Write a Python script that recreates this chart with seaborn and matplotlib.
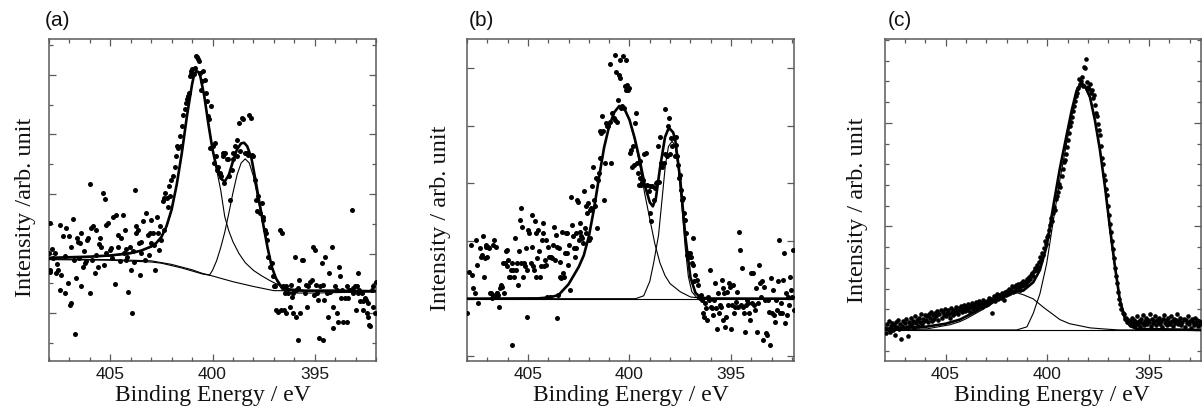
import numpy as np
import matplotlib
matplotlib.use("Agg")
import matplotlib.pyplot as plt
from matplotlib.ticker import MultipleLocator, NullLocator
import seaborn as sns

sns.set_style("ticks")
plt.rcParams['font.family'] = ['Liberation Sans', 'DejaVu Sans']

# ---------------- panel (a) ----------------
a_left_pts = [
    (407.99, 2.01), (407.97, 1.72), (407.97, 2.51), (407.93, 1.70), (407.80, 1.92), (407.72, 2.01),
    (407.64, 1.67), (407.56, 1.72), (407.48, 2.48), (407.48, 1.39), (407.40, 1.64), (407.31, 2.29),
    (407.23, 1.34), (407.15, 2.43), (407.07, 1.50), (407.02, 2.29), (406.96, 1.14), (406.91, 1.17),
    (406.82, 2.58), (406.79, 1.90), (406.74, 0.66), (406.69, 1.59), (406.63, 2.26), (406.58, 2.20),
    (406.50, 2.18), (406.45, 2.34), (406.42, 1.45), (406.33, 1.78), (406.25, 1.84), (406.17, 1.87),
    (406.14, 2.23), (406.09, 2.26), (406.01, 3.16), (405.98, 1.34), (405.93, 2.43), (405.84, 2.46),
    (405.76, 1.67), (405.71, 2.40), (405.68, 1.98), (405.60, 1.78), (405.52, 2.26), (405.44, 2.12),
    (405.36, 3.02), (405.27, 2.92), (405.22, 2.01), (405.19, 2.48), (405.11, 2.51), (405.03, 2.06),
    (404.95, 2.09), (404.87, 2.62), (404.78, 1.49), (404.70, 2.65), (404.62, 2.12), (404.54, 1.87),
    (404.46, 2.26), (404.38, 2.65), (404.34, 2.01), (404.29, 2.40), (404.21, 1.90), (404.16, 1.95),
    (404.13, 1.36), (404.05, 2.12), (403.97, 1.73), (403.92, 1.00), (403.89, 2.04), (403.80, 3.07),
    (403.75, 2.34), (403.72, 2.46), (403.64, 2.40), (403.59, 2.18), (403.56, 1.64), (403.48, 2.20),
    (403.40, 2.54), (403.31, 1.90), (403.23, 2.68), (403.15, 2.32), (403.07, 2.34), (403.02, 2.57),
    (402.99, 2.18), (402.91, 2.34), (402.82, 1.73), (402.74, 2.62), (402.66, 2.34), (402.58, 2.46),
    (402.50, 2.23), (402.42, 2.88), (402.38, 2.93), (402.30, 3.02), (402.25, 2.93),
    (407.85, 2.08), (407.60, 1.83), (407.20, 1.96), (406.90, 2.12), (406.55, 1.93), (406.30, 2.05),
    (405.90, 1.89), (405.55, 2.17), (405.30, 1.81), (404.90, 1.93), (404.60, 2.31), (404.25, 2.08),
    (403.85, 1.86), (403.50, 2.01), (403.10, 1.97), (402.85, 2.15), (402.60, 2.06), (402.35, 2.39),
]
a_peak_pts = [
    (402.20, 2.79), (402.12, 3.13), (402.09, 2.96), (402.01, 3.24), (401.93, 3.30), (401.84, 3.46),
    (401.80, 3.63), (401.73, 3.80), (401.67, 3.77), (401.60, 3.97), (401.52, 3.80), (401.47, 4.14),
    (401.44, 4.33), (401.36, 4.42), (401.31, 4.53), (401.27, 4.59), (401.19, 4.64), (401.14, 4.70),
    (401.11, 4.98), (401.06, 5.01), (401.03, 5.06), (400.98, 5.09), (400.91, 5.01), (400.87, 5.12),
    (400.82, 5.31), (400.75, 5.30), (400.70, 5.26), (400.65, 5.23), (400.62, 5.03), (400.57, 4.75),
    (400.51, 4.89), (400.46, 5.06), (400.38, 4.92), (400.33, 4.70), (400.29, 4.56), (400.23, 4.31),
    (400.16, 4.25), (400.13, 3.77), (400.05, 4.47), (400.00, 3.80), (399.93, 3.52), (399.89, 3.86),
    (399.84, 3.63), (399.80, 3.41), (399.72, 3.46), (399.64, 3.35), (399.59, 3.30), (399.51, 3.69),
    (399.48, 3.63), (399.44, 3.18), (399.38, 3.69), (399.31, 3.58), (399.25, 3.58), (399.18, 3.30),
    (399.12, 2.90), (399.07, 3.41), (399.02, 3.58), (398.99, 3.69), (398.91, 3.80), (398.82, 3.91),
    (398.79, 3.63), (398.69, 4.19), (398.63, 3.72), (398.58, 4.28), (398.50, 4.25), (398.42, 3.69),
    (398.33, 3.69), (398.25, 3.66), (398.20, 4.33), (398.14, 4.28), (398.09, 3.66), (398.01, 3.63),
    (397.93, 3.24), (397.88, 2.90), (397.81, 2.71), (397.76, 2.96), (397.68, 2.68), (397.60, 2.85),
    (397.55, 2.62), (397.52, 2.57), (397.44, 2.40), (397.39, 2.34), (397.35, 2.23), (397.27, 1.95),
    (397.19, 1.78), (397.11, 1.84), (397.06, 1.62), (396.99, 1.45),
]
a_right_pts = [
    (396.95, 1.45), (396.87, 1.06), (396.78, 1.03), (396.70, 2.40), (396.67, 1.06), (396.62, 2.34),
    (396.57, 1.45), (396.51, 1.06), (396.46, 1.34), (396.41, 1.45), (396.38, 1.00), (396.29, 1.34),
    (396.21, 1.11), (396.18, 1.48), (396.13, 1.28), (396.08, 1.34), (396.05, 1.00), (395.97, 1.95),
    (395.93, 0.94), (395.89, 1.39), (395.84, 0.55), (395.80, 1.42), (395.75, 1.56), (395.72, 1.00),
    (395.64, 1.90), (395.56, 1.90), (395.48, 1.34), (395.43, 1.48), (395.40, 1.11), (395.31, 1.45),
    (395.23, 1.53), (395.15, 1.56), (395.07, 2.12), (395.04, 1.31), (394.99, 2.06), (394.94, 1.48),
    (394.91, 1.34), (394.82, 1.22), (394.78, 0.58), (394.74, 1.45), (394.66, 1.84), (394.61, 0.55),
    (394.58, 1.48), (394.55, 1.22), (394.50, 1.95), (394.42, 1.34), (394.33, 0.94), (394.29, 1.67),
    (394.25, 1.36), (394.17, 2.12), (394.12, 1.11), (394.09, 0.75), (394.01, 1.45), (393.93, 1.00),
    (393.89, 1.39), (393.84, 0.86), (393.80, 1.78), (393.76, 1.62), (393.73, 1.25), (393.68, 1.39),
    (393.60, 0.86), (393.52, 1.25), (393.44, 1.45), (393.40, 0.86), (393.35, 1.25), (393.31, 1.39),
    (393.27, 1.39), (393.19, 2.74), (393.14, 1.42), (393.11, 1.34), (393.03, 1.45), (392.98, 1.06),
    (392.95, 1.45), (392.90, 1.34), (392.86, 1.67), (392.82, 1.39), (392.78, 1.20), (392.70, 1.34),
    (392.65, 1.06), (392.62, 1.20), (392.54, 1.25), (392.49, 1.22), (392.46, 1.00), (392.41, 0.94),
    (392.37, 1.17), (392.33, 0.80), (392.29, 0.78), (392.21, 1.39), (392.16, 1.11), (392.13, 1.45),
    (392.05, 1.00), (392.00, 1.53),
]
a_total_E = [408.0, 407.0, 406.0, 405.0, 404.0, 403.5, 403.0, 402.75, 402.5, 402.25, 402.0, 401.75,
             401.5, 401.25, 401.0, 400.9, 400.8, 400.7, 400.6, 400.4, 400.2, 400.0, 399.8, 399.6,
             399.4, 399.2, 399.0, 398.8, 398.6, 398.45, 398.3, 398.1, 397.9, 397.7, 397.5, 397.3,
             397.1, 396.9, 396.7, 396.5, 396.2, 395.5, 394.0, 392.0]
a_total_Y = [1.93, 1.94, 1.95, 1.97, 2.01, 2.05, 2.12, 2.18, 2.28, 2.46, 2.74, 3.16,
             3.69, 4.31, 4.84, 5.00, 5.06, 5.05, 4.98, 4.64, 4.17, 3.75, 3.44, 3.26,
             3.21, 3.32, 3.55, 3.75, 3.85, 3.86, 3.80, 3.61, 3.24, 2.85, 2.46, 2.09,
             1.78, 1.59, 1.48, 1.41, 1.39, 1.38, 1.38, 1.37]
a_bg_E = [408.0, 405.0, 403.0, 402.5, 402.0, 401.5, 401.0, 400.5, 400.15, 399.0, 398.0, 397.0, 392.0]
a_bg_Y = [1.90, 1.89, 1.86, 1.84, 1.80, 1.76, 1.71, 1.66, 1.64, 1.53, 1.45, 1.38, 1.37]
a_c1_E = [408.0, 405.0, 404.0, 403.0, 402.5, 402.25, 402.0, 401.75, 401.5, 401.25, 401.0, 400.9,
          400.8, 400.7, 400.6, 400.4, 400.2, 400.0, 399.8, 399.6, 399.4, 399.2, 399.0, 398.7,
          398.4, 398.0, 397.6, 397.2, 396.8, 396.4, 395.5, 392.0]
a_c1_Y = [1.92, 1.96, 2.00, 2.11, 2.27, 2.45, 2.73, 3.15, 3.68, 4.30, 4.84, 5.00,
          5.06, 5.05, 4.97, 4.62, 4.20, 3.78, 3.41, 3.07, 2.62, 2.38, 2.20, 2.00,
          1.85, 1.72, 1.63, 1.55, 1.48, 1.42, 1.38, 1.37]
a_c2_E = [408.0, 405.0, 403.0, 402.0, 401.0, 400.5, 400.15, 400.0, 399.8, 399.6, 399.4, 399.2,
          399.0, 398.8, 398.6, 398.4, 398.2, 398.0, 397.8, 397.6, 397.4, 397.2, 397.0, 396.8,
          396.6, 396.4, 396.0, 395.0, 392.0]
a_c2_Y = [1.91, 1.90, 1.88, 1.82, 1.73, 1.67, 1.64, 1.72, 1.88, 2.10, 2.36, 2.68,
          3.02, 3.32, 3.52, 3.59, 3.52, 3.30, 2.96, 2.62, 2.26, 1.92, 1.67, 1.50,
          1.40, 1.36, 1.34, 1.34, 1.36]

# ---------------- panel (b) ----------------
b_left_pts = [
    (407.98, -0.25), (407.90, 0.47), (407.82, 0.93), (407.77, 0.41), (407.69, 0.18), (407.62, 0.09),
    (407.55, 1.02), (407.49, 0.58), (407.44, -0.08), (407.36, 0.87), (407.33, 0.73), (407.28, 0.76),
    (407.21, 1.08), (407.18, 0.38), (407.13, 0.70), (407.08, 0.93), (407.05, 0.90), (407.00, 0.72),
    (406.97, 0.90), (406.92, 0.87), (406.87, 0.09), (406.83, 0.09), (406.79, 0.01), (406.74, 0.93),
    (406.70, 0.05), (406.67, 1.02), (406.62, 0.06), (406.59, 0.90), (406.54, 0.09), (406.51, 0.10),
    (406.46, 0.06), (406.43, -0.14), (406.38, 0.18), (406.34, 0.24), (406.29, 0.21), (406.23, 0.61),
    (406.18, 0.09), (406.13, 0.61), (406.08, 0.82), (406.05, 0.85), (406.02, 0.56), (405.97, 0.67),
    (405.92, 0.38), (405.89, 0.38), (405.84, 0.50), (405.80, -0.80), (405.77, 0.61), (405.72, 0.50),
    (405.69, 0.38), (405.64, 1.05), (405.59, 0.50), (405.56, 0.61), (405.49, 0.24), (405.44, 0.82),
    (405.39, 1.37), (405.36, 1.57), (405.33, 0.61), (405.28, 1.25), (405.23, 0.38), (405.20, 0.61),
    (405.15, 0.56), (405.10, 0.87), (405.07, -0.31), (405.03, 0.50), (404.98, 1.19), (404.94, 1.13),
    (404.87, 0.61), (404.82, 0.90), (404.79, 1.45), (404.74, 0.56), (404.71, 0.50), (404.66, 1.34),
    (404.61, 0.38), (404.58, 1.13), (404.54, 0.70), (404.49, 1.19), (404.45, 0.82), (404.41, 0.38),
    (404.38, 0.56), (404.33, 1.02), (404.28, 1.13), (404.25, 1.31), (404.22, 0.56), (404.17, 0.67),
    (404.12, 1.02), (404.09, 0.58), (404.05, 0.03), (404.00, 0.90), (403.95, 0.73), (403.92, 0.03),
    (403.87, 0.73), (403.81, 0.70), (403.76, 0.93), (403.71, 1.25), (403.68, 0.67), (403.64, 1.11),
    (403.59, 0.90), (403.56, -0.34), (403.51, 0.06), (403.48, 0.87), (403.43, 0.64), (403.40, 0.38),
    (403.35, 0.35), (403.32, 1.16), (403.27, 0.44), (403.23, 0.38), (403.18, 0.79), (403.15, 1.13),
    (403.10, 0.79), (403.07, 1.13), (403.02, 0.58), (402.97, 0.93), (402.91, 0.15), (402.87, 1.77),
    (402.81, 1.28), (402.78, 1.08), (402.74, 0.87), (402.69, 0.73), (402.64, 1.13), (402.61, 0.87),
    (402.58, 1.71), (402.53, 1.68), (402.48, 1.02), (402.45, 1.31), (402.42, 1.16), (402.37, 1.08),
    (402.32, 1.05), (402.28, 0.96), (402.25, 1.86), (402.20, 1.22), (402.15, 1.13), (402.12, 1.60),
    (402.09, 1.48),
]
b_peak_pts = [
    (402.06, 1.66), (402.01, 1.02), (401.96, 1.05), (401.92, 1.54), (401.88, 1.57), (401.83, 1.95),
    (401.78, 2.29), (401.73, 1.71), (401.68, 1.60), (401.63, 2.09), (401.60, 1.22), (401.56, 2.06),
    (401.51, 2.18), (401.46, 2.44), (401.43, 2.90), (401.38, 2.87), (401.33, 3.16), (401.30, 2.90),
    (401.27, 1.71), (401.22, 2.35), (401.17, 3.05), (401.11, 2.99), (401.04, 2.99), (400.98, 4.07),
    (400.94, 3.07), (400.91, 2.35), (400.84, 3.22), (400.78, 3.13), (400.73, 3.10), (400.70, 4.22),
    (400.68, 3.93), (400.61, 3.07), (400.58, 3.45), (400.53, 3.87), (400.48, 4.13), (400.45, 3.83),
    (400.40, 3.31), (400.35, 3.34), (400.32, 4.20), (400.29, 3.31), (400.24, 3.68), (400.19, 3.62),
    (400.16, 4.13), (400.12, 3.71), (400.07, 3.62), (400.02, 3.65), (399.96, 2.52), (399.93, 2.58),
    (399.88, 2.29), (399.83, 2.64), (399.80, 2.32), (399.75, 3.05), (399.68, 3.22), (399.63, 2.35),
    (399.60, 2.18), (399.55, 1.97), (399.50, 2.09), (399.47, 2.38), (399.42, 1.97), (399.37, 2.03),
    (399.34, 2.06), (399.27, 2.50), (399.21, 2.52), (399.14, 1.97), (399.06, 1.86), (399.01, 1.95),
    (398.98, 1.48), (398.93, 1.34), (398.88, 1.95), (398.81, 1.71), (398.73, 1.92), (398.68, 2.00),
    (398.65, 2.03), (398.60, 2.64), (398.55, 2.03), (398.50, 2.81), (398.44, 2.35), (398.39, 2.29),
    (398.32, 2.35), (398.27, 3.28), (398.23, 2.50), (398.16, 2.47), (398.11, 2.99), (398.06, 3.13),
    (398.00, 2.50), (397.95, 2.79), (397.90, 2.64), (397.83, 2.79), (397.78, 2.47), (397.73, 2.67),
    (397.69, 2.81), (397.64, 2.47), (397.59, 2.32), (397.54, 2.09), (397.49, 2.15), (397.44, 1.89),
    (397.39, 1.71), (397.36, 1.74), (397.31, 1.48), (397.26, 1.37), (397.21, 1.13), (397.18, 0.76),
    (397.13, 0.79), (397.08, 0.73), (397.03, 0.79), (396.98, 0.73), (396.93, 0.61), (396.88, 1.05),
    (396.85, 0.58), (396.80, 0.30), (396.75, 0.41), (396.69, 0.32), (396.64, 0.24), (396.59, 0.03),
    (396.54, 0.01),
]
b_right_pts = [
    (396.49, 0.06), (396.44, -0.02), (396.39, -0.25), (396.34, -0.31), (396.29, -0.08), (396.25, -0.17),
    (396.20, -0.37), (396.15, 0.03), (396.10, -0.02), (396.05, 0.50), (396.00, -0.14), (395.95, -0.17),
    (395.90, -0.28), (395.85, -0.02), (395.80, 0.27), (395.75, -0.17), (395.71, -0.52), (395.66, 0.09),
    (395.61, -0.25), (395.56, -0.11), (395.51, -0.14), (395.46, 0.32), (395.41, -0.37), (395.38, 0.18),
    (395.33, 0.09), (395.28, -0.49), (395.23, -0.31), (395.18, 0.12), (395.13, -0.11), (395.08, 0.27),
    (395.05, 0.21), (395.00, -0.52), (394.95, -0.11), (394.90, 0.24), (394.85, -0.25), (394.80, -0.14),
    (394.76, -0.05), (394.71, 0.12), (394.66, -0.14), (394.61, 1.16), (394.56, 0.85), (394.53, -0.11),
    (394.48, 0.53), (394.43, -0.14), (394.38, -0.25), (394.33, -0.57), (394.28, -0.11), (394.23, -0.02),
    (394.18, -0.08), (394.13, -0.25), (394.08, -0.37), (394.04, 0.44), (393.99, -0.08), (393.94, 0.44),
    (393.89, -0.11), (393.84, -0.20), (393.79, 0.18), (393.74, -0.57), (393.69, -0.08), (393.64, 0.58),
    (393.59, 0.27), (393.54, 0.03), (393.49, 0.30), (393.44, -0.72), (393.39, 0.21), (393.34, -0.02),
    (393.30, -0.60), (393.25, -0.63), (393.20, -0.02), (393.15, -0.23), (393.10, -0.80), (393.05, 0.35),
    (393.00, -0.25), (392.95, 0.15), (392.90, -0.28), (392.85, -0.40), (392.80, -0.02), (392.75, -0.20),
    (392.71, 0.30), (392.66, 1.02), (392.61, -0.25), (392.56, -0.08), (392.51, -0.25), (392.46, 0.32),
    (392.41, 0.79), (392.36, -0.43), (392.31, 0.09), (392.26, -0.28), (392.21, 0.03), (392.16, -0.11),
    (392.11, 0.38), (392.06, 0.15), (392.01, 0.03), (391.96, 0.85), (391.91, -0.20),
]
b_total_E = [408.0, 404.5, 404.0, 403.5, 403.0, 402.5, 402.25, 402.0, 401.75, 401.5, 401.25, 401.0,
             400.75, 400.5, 400.25, 400.0, 399.75, 399.5, 399.25, 399.0, 398.85, 398.7, 398.5,
             398.25, 398.1, 398.0, 397.85, 397.75, 397.5, 397.25, 397.0, 396.75, 396.5, 396.0, 391.9]
b_total_Y = [0.0, 0.005, 0.02, 0.06, 0.25, 0.55, 0.75, 1.08, 1.55, 2.10, 2.62, 2.99,
             3.23, 3.34, 3.29, 3.10, 2.79, 2.41, 1.97, 1.67, 1.60, 1.74, 2.26,
             2.80, 2.93, 2.94, 2.88, 2.76, 2.06, 1.08, 0.37, 0.10, 0.02, 0.0, 0.0]
b_c1_E = [408.0, 404.5, 404.0, 403.5, 403.0, 402.5, 402.25, 402.0, 401.75, 401.5, 401.25, 401.0,
          400.75, 400.5, 400.25, 400.0, 399.75, 399.5, 399.25, 399.0, 398.75, 398.5, 398.25,
          398.0, 397.75, 397.5, 397.0, 396.5, 391.9]
b_c1_Y = [0.0, 0.005, 0.02, 0.06, 0.25, 0.55, 0.75, 1.08, 1.55, 2.10, 2.62, 2.99,
          3.23, 3.34, 3.29, 3.09, 2.76, 2.33, 1.82, 1.38, 0.95, 0.62, 0.40,
          0.26, 0.19, 0.12, 0.03, 0.01, 0.0]
b_c2_E = [408.0, 399.7, 399.3, 399.0, 398.81, 398.57, 398.40, 398.24, 398.08, 397.9, 397.75,
          397.59, 397.42, 397.26, 397.10, 396.93, 396.69, 396.4, 391.9]
b_c2_Y = [0.0, 0.0, 0.05, 0.30, 0.62, 1.10, 1.71, 2.29, 2.64, 2.73, 2.64,
          2.24, 1.60, 0.90, 0.38, 0.12, 0.02, 0.0, 0.0]
b_base_E = [408.0, 391.9]
b_base_Y = [0.0, 0.0]

# ---------------- panel (c) ----------------
c_step = 0.05
c_int = [
    0.02, -0.03, 0.06, 0.01, 0.09, -0.02, 0.04, 0.07, 0.00, 0.05,
    -0.05, 0.08, 0.03, 0.10, 0.01, 0.06, -0.09, 0.04, 0.09, 0.02,
    0.07, 0.11, 0.03, -0.06, 0.08, 0.05, 0.12, 0.06, 0.09, 0.02,
    0.13, 0.07, 0.10, 0.04, 0.12, 0.08, 0.15, 0.06, 0.11, 0.09, 0.14,
    0.10, 0.13, 0.08, 0.15, 0.12, 0.17, 0.09, 0.14, 0.11, 0.16,
    0.13, 0.18, 0.10, 0.15, 0.19, 0.12, 0.17, 0.14, 0.20, 0.13,
    0.16, 0.19, 0.15, 0.12, 0.21, 0.17, 0.14, 0.19, 0.16, 0.22,
    0.18, 0.15, 0.21, 0.19, 0.23, 0.17, 0.20, 0.24, 0.18, 0.22,
    0.19, 0.25, 0.21, 0.17, 0.23, 0.26, 0.20, 0.24, 0.22, 0.27,
    0.21, 0.25, 0.28, 0.23, 0.26, 0.22, 0.29, 0.25, 0.27, 0.24,
    0.28, 0.25, 0.31, 0.27, 0.30, 0.16, 0.29, 0.33, 0.28, 0.32,
    0.35, 0.30, 0.34, 0.31, 0.36, 0.33, 0.29, 0.37, 0.34, 0.38,
    0.35, 0.40, 0.36, 0.39, 0.42, 0.37, 0.41, 0.38, 0.43, 0.40,
    0.44, 0.41, 0.39, 0.45, 0.42, 0.47, 0.43, 0.46, 0.44, 0.49,
    0.47, 0.51, 0.49, 0.53, 0.55, 0.52, 0.57, 0.60, 0.58, 0.63,
    0.61, 0.66, 0.70, 0.68, 0.74, 0.72, 0.79, 0.86, 0.83, 0.90,
    0.92, 0.97, 1.01, 1.08, 1.05, 1.13, 1.19, 1.16, 1.26, 1.29,
    1.33, 1.41, 1.38, 1.49, 1.55, 1.62, 1.64, 1.70, 1.77, 1.83,
    1.90, 1.97, 2.01, 2.06, 2.11, 2.16, 2.21, 2.26, 2.29, 2.34,
    2.42, 2.38, 2.40, 2.44, 2.36, 2.54, 2.53, 2.62, 2.39, 2.35,
    2.33, 2.38, 2.29, 2.32, 2.24, 2.27, 2.17, 2.10, 2.07, 1.99,
    1.93, 1.88, 1.78, 1.66, 1.60, 1.50, 1.45, 1.36, 1.30, 1.20,
    1.11, 1.02, 0.95, 0.86, 0.78, 0.69, 0.60, 0.52, 0.45, 0.37,
    0.30, 0.25, 0.20, 0.16, 0.15, 0.11, 0.12, 0.08, 0.10, 0.07,
    0.09, 0.05, 0.12, 0.07, 0.10, 0.04, 0.08, 0.13, 0.06, 0.09,
    0.03, 0.11, 0.07, 0.14, 0.05, 0.09, 0.12, 0.06, 0.10, 0.08,
    0.15, 0.04, 0.11, 0.07, 0.09, 0.13, 0.05, 0.10, 0.08, 0.12,
    0.06, 0.09, 0.03, 0.11, 0.14, 0.07, 0.10, 0.05, 0.12, 0.08,
    0.06, 0.13, 0.09, 0.04, 0.11, 0.07, 0.10, 0.15, 0.06, 0.09,
    0.12, 0.05, 0.08, 0.11, 0.03, 0.10, 0.07, 0.13, 0.06, 0.09,
    0.02, 0.11, 0.08, 0.05, 0.12, 0.07, 0.10, 0.04, 0.09, 0.06, 0.08,
]
c_E = list(np.round(408.0 - c_step * np.arange(len(c_int)), 2))
c_total_E = [407.98, 406.0, 405.0, 404.3, 404.0, 403.5, 403.15, 402.66, 402.33, 401.84, 401.51,
             401.18, 400.69, 400.36, 400.03, 399.70, 399.38, 399.05, 398.80, 398.56, 398.39,
             398.31, 398.15, 397.90, 397.66, 397.41, 397.16, 396.92, 396.67, 396.43, 396.18,
             395.93, 395.61, 392.44]
c_total_Y = [0.01, 0.03, 0.06, 0.10, 0.13, 0.18, 0.22, 0.28, 0.32, 0.36, 0.37,
             0.38, 0.46, 0.58, 0.81, 1.20, 1.56, 1.88, 2.12, 2.31, 2.37,
             2.38, 2.36, 2.25, 2.03, 1.74, 1.38, 0.99, 0.61, 0.29, 0.11,
             0.04, 0.01, 0.0]
c_c1_E = [407.98, 401.5, 401.0, 400.69, 400.36, 400.03, 399.70, 399.38, 399.05, 398.80, 398.56,
          398.39, 398.31, 398.15, 397.90, 397.66, 397.41, 397.16, 396.92, 396.67, 396.43,
          396.18, 395.93, 395.61, 392.44]
c_c1_Y = [0.0, 0.0, 0.03, 0.16, 0.35, 0.64, 1.06, 1.45, 1.80, 2.06, 2.27,
          2.34, 2.36, 2.34, 2.24, 2.02, 1.73, 1.37, 0.98, 0.60, 0.28,
          0.10, 0.03, 0.01, 0.0]
c_c2_E = [407.98, 405.93, 404.79, 404.30, 403.97, 403.15, 402.66, 402.33, 401.84, 401.51, 401.18,
          400.69, 400.2, 399.72, 399.38, 398.9, 398.39, 397.9, 397.25, 396.5, 392.44]
c_c2_Y = [0.0, 0.01, 0.05, 0.08, 0.11, 0.20, 0.26, 0.30, 0.35, 0.36, 0.34,
          0.30, 0.22, 0.15, 0.10, 0.06, 0.04, 0.02, 0.01, 0.0, 0.0]
c_base_E = [407.98, 392.44]
c_base_Y = [0.0, 0.0]

# ---------------- drawing ----------------
W, H = 1202, 408
fig = plt.figure(figsize=(W / 100, H / 100), dpi=100)


def make_axes(l, r, t, b):
    return fig.add_axes([l / W, 1 - b / H, (r - l) / W, (b - t) / H])


def split(*groups):
    E, Y = [], []
    for g in groups:
        for e, y in g:
            E.append(e)
            Y.append(y)
    return E, Y


THIN, THICK = 0.8, 1.9
SPINE = '#5a5a5a'


def draw_panel(ax, pE, pY, curves, xlim, ylim, ymaj, ymin, ylabel, ylab_xy, xlab_x, tag, tag_x,
               msize=13):
    sns.scatterplot(x=pE, y=pY, ax=ax, color='black', s=msize, linewidth=0,
                    legend=False, zorder=3)
    for E, Y, lw in curves:
        sns.lineplot(x=E, y=Y, ax=ax, color='black', linewidth=lw, estimator=None,
                     sort=False, zorder=4)
    ax.set_xlim(*xlim)
    ax.set_ylim(*ylim)
    ax.xaxis.set_major_locator(MultipleLocator(5))
    ax.xaxis.set_minor_locator(MultipleLocator(1))
    ax.yaxis.set_major_locator(MultipleLocator(ymaj))
    if ymin:
        ax.yaxis.set_minor_locator(MultipleLocator(ymin))
    else:
        ax.yaxis.set_minor_locator(NullLocator())
    ax.tick_params(which='both', direction='in', top=True, right=True,
                   labelleft=False, color=SPINE)
    ax.tick_params(which='major', length=5, width=0.9, labelsize=12.5, pad=4,
                   labelcolor='#1a1a1a')
    ax.tick_params(which='minor', length=3, width=0.9)
    for s in ax.spines.values():
        s.set_color(SPINE)
        s.set_linewidth(1.1)
    ax.set_xlabel('Binding Energy / eV', fontfamily='Liberation Serif', fontsize=17,
                  color='#111111')
    ax.xaxis.set_label_coords(xlab_x, -0.076)
    ax.set_ylabel(ylabel, fontfamily='Liberation Serif', fontsize=17.5, color='#111111')
    ax.yaxis.set_label_coords(*ylab_xy)
    fig.text(tag_x / W, 1 - 21 / H, tag, ha='left', va='center', fontsize=15,
             color='#111111')


axA = make_axes(49, 376, 39, 361)
pE, pY = split(a_left_pts, a_peak_pts, a_right_pts)
draw_panel(axA, pE, pY,
           [(a_bg_E, a_bg_Y, THIN), (a_c2_E, a_c2_Y, THIN), (a_c1_E, a_c1_Y, THIN),
            (a_total_E, a_total_Y, THICK)],
           (408.0, 392.0), (0.20, 5.60), 1.0, 0.5, 'Intensity /arb. unit',
           (-0.04, 0.478), 0.5, '(a)', 45)

axB = make_axes(467, 794, 39, 361)
pE, pY = split(b_left_pts, b_peak_pts, b_right_pts)
draw_panel(axB, pE, pY,
           [(b_base_E, b_base_Y, THIN), (b_c1_E, b_c1_Y, THIN), (b_c2_E, b_c2_Y, THIN),
            (b_total_E, b_total_Y, THICK)],
           (408.0, 391.9), (-1.08, 4.50), 1.0, None, 'Intensity / arb. unit',
           (-0.049, 0.444), 0.5, '(b)', 469)

axC = make_axes(885, 1201, 39, 361)
draw_panel(axC, c_E, c_int,
           [(c_base_E, c_base_Y, THIN), (c_c1_E, c_c1_Y, THIN), (c_c2_E, c_c2_Y, THIN),
            (c_total_E, c_total_Y, THICK)],
           (407.98, 392.44), (-0.30, 2.81), 1.0, 0.2, 'Intensity / arb. unit',
           (-0.054, 0.469), 0.528, '(c)', 888, msize=11)

fig.savefig('out.png', dpi=100)
